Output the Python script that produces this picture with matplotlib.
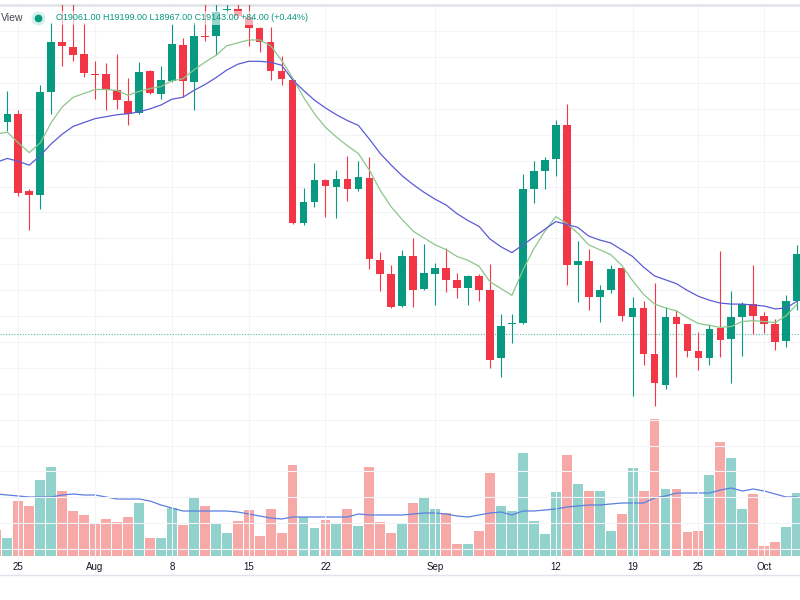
import matplotlib
matplotlib.use("Agg")
import matplotlib.pyplot as plt
import matplotlib.dates as mdates
from matplotlib.lines import Line2D
import numpy as np
import pandas as pd

# daily candles, 23 Jul - 4 Oct 2022
dates = pd.date_range("2022-07-23", "2022-10-04", freq="D")

opens = [22620, 22410, 22545, 21345, 21285, 22875, 23655, 23580, 23475, 23160,
         23160, 22905, 22740, 22560, 23205, 22845, 23055, 23610, 23040, 23745,
         23745, 24150, 24165, 24045, 23865, 23655, 23205, 23070, 20865, 21180,
         21525, 21420, 21540, 21375, 21555, 20280, 20070, 19575, 20340, 19845,
         20070, 20160, 19980, 19860, 20040, 19815, 18765, 19290, 19320, 21390,
         21660, 21840, 22365, 20205, 20265, 19710, 19815, 20160, 19410, 19545,
         18840, 18360, 19410, 19290, 18885, 18765, 19230, 19065, 19410, 19605,
         19425, 19305, 19035, 19650]
highs = [22725, 22890, 22605, 21375, 22995, 23940, 24400, 24400, 23940, 23355,
         23325, 23475, 23100, 23340, 23220, 23280, 23925, 23715, 23955, 24400,
         24400, 24400, 24400, 24400, 23880, 23880, 23430, 23070, 21405, 21780,
         21540, 21675, 21885, 21810, 21870, 20415, 20205, 20445, 20625, 20535,
         20235, 20475, 20085, 20055, 20070, 20220, 19455, 19455, 21615, 21810,
         21870, 22455, 22695, 20580, 20460, 19905, 20205, 20160, 19710, 19650,
         19935, 19560, 19515, 19305, 19170, 19305, 20430, 19800, 19635, 20205,
         19485, 19380, 19740, 20520]
lows = [22350, 22275, 21270, 20745, 21075, 22545, 23280, 23355, 23115, 22770,
        22605, 22620, 22365, 22545, 22845, 22770, 23040, 22800, 22605, 23670,
        23445, 24105, 24030, 23595, 23505, 23070, 22995, 20835, 20820, 21105,
        20955, 20940, 21195, 21345, 20145, 19800, 19545, 19560, 19560, 19830,
        19590, 19785, 19695, 19590, 19650, 18615, 18480, 19005, 19305, 21165,
        21390, 21585, 19905, 19635, 19515, 19335, 19770, 19350, 18180, 18660,
        18030, 18300, 18480, 18780, 18585, 18660, 18780, 18390, 18810, 19140,
        19155, 18900, 18945, 19515]
closes = [22395, 22545, 21315, 21285, 22875, 23655, 23595, 23460, 23175, 23145,
          22905, 22755, 22545, 23190, 22860, 23070, 23625, 23055, 23745, 23730,
          24120, 24165, 24060, 23865, 23655, 23205, 23085, 20865, 21180, 21525,
          21435, 21540, 21390, 21570, 20295, 20070, 19560, 20340, 19830, 20085,
          20160, 19980, 19860, 20040, 19815, 18735, 19260, 19320, 21390, 21660,
          21825, 22365, 20205, 20265, 19710, 19830, 20145, 19425, 19545, 18840,
          18390, 19410, 19290, 18885, 18765, 19215, 19050, 19410, 19605, 19425,
          19305, 19020, 19650, 20385]

# volume in thousands
volume = [26, 18, 55, 50, 76, 89, 65, 45, 41, 33,
          37, 34, 39, 53, 18, 18, 48, 31, 58, 50,
          32, 23, 35, 46, 20, 47, 23, 91, 39, 28,
          36, 32, 47, 30, 89, 34, 23, 32, 53, 58,
          47, 43, 12, 12, 25, 83, 50, 45, 103, 35,
          22, 64, 101, 72, 65, 65, 25, 42, 88, 65,
          137, 67, 67, 24, 25, 81, 114, 98, 47, 62,
          10, 14, 29, 63]
vol_ma = [62, 61, 60, 59, 59, 59, 61, 62, 61, 61,
          59, 57, 57, 57, 55, 51, 48, 45, 45, 45,
          45, 45, 44, 42, 40, 38, 37, 39, 39, 39,
          39, 39, 39, 42, 41, 41, 41, 41, 42, 43,
          43, 42, 40, 39, 41, 43, 44, 41, 45, 45,
          46, 47, 49, 50, 51, 51, 52, 53, 53, 53,
          58, 60, 63, 63, 63, 63, 66, 68, 65, 67,
          65, 62, 59, 59]

ma_fast = [22230, 22260, 22095, 21945, 22095, 22410, 22650, 22800, 22860, 22920,
           22920, 22905, 22830, 22890, 22935, 22965, 23055, 23085, 23220, 23340,
           23445, 23595, 23640, 23685, 23685, 23595, 23370, 23100, 22800, 22545,
           22335, 22185, 22050, 21930, 21675, 21360, 21105, 20910, 20730, 20625,
           20520, 20445, 20340, 20280, 20190, 19950, 19845, 19740, 20130, 20460,
           20730, 20955, 20850, 20700, 20520, 20445, 20370, 20205, 19965, 19755,
           19605, 19545, 19500, 19395, 19305, 19275, 19245, 19260, 19335, 19350,
           19335, 19320, 19425, 19605]
ma_slow = [21795, 21855, 21810, 21750, 21900, 22080, 22230, 22350, 22410, 22470,
           22500, 22530, 22545, 22575, 22620, 22680, 22770, 22800, 22905, 22995,
           23100, 23220, 23310, 23355, 23355, 23340, 23295, 23070, 22905, 22755,
           22635, 22530, 22440, 22365, 22155, 21930, 21750, 21585, 21450, 21330,
           21225, 21135, 21000, 20895, 20805, 20610, 20490, 20400, 20520, 20640,
           20760, 20880, 20835, 20790, 20655, 20595, 20550, 20445, 20340, 20175,
           20040, 19980, 19920, 19815, 19725, 19665, 19620, 19605, 19605, 19590,
           19575, 19530, 19545, 19650]

tick_dates = ["2022-07-25", "2022-08-01", "2022-08-08", "2022-08-15", "2022-08-22",
              "2022-09-01", "2022-09-12", "2022-09-19", "2022-09-25", "2022-10-01"]
tick_labels = ["25", "Aug", "8", "15", "22", "Sep", "12", "19", "25", "Oct"]
last_close = 19143
header = "O19061.00 H19199.00 L18967.00 C19143.00 +84.00 (+0.44%)"

UP, DOWN = "#089981", "#f23645"
UP_VOL, DOWN_VOL = "#92d2cc", "#f7a9a7"
GRID = "#f3f4f8"

o = np.array(opens); c = np.array(closes)
h = np.array(highs); l = np.array(lows)
x = mdates.date2num(dates)
up = c >= o
col = np.where(up, UP, DOWN)
vcol = np.where(up, UP_VOL, DOWN_VOL)

fig = plt.figure(figsize=(8, 6), dpi=100)
axv = fig.add_axes([0, 44 / 600, 1, 156 / 600])
ax = fig.add_axes([0, 25 / 600, 1, 570 / 600], sharex=axv)
ax.patch.set_alpha(0)

# volume pane
axv.bar(x, volume, width=0.9, color=vcol, zorder=2)
axv.plot(x, vol_ma, color="#5b7fe0", lw=0.9, zorder=3)
axv.set_ylim(0, 156)
axv.axis("off")

# price pane
ax.vlines(x, l, h, colors=col, lw=0.8, zorder=3)
body = np.maximum(np.abs(c - o), 15)
ax.bar(x, body, bottom=np.minimum(o, c), width=0.7, color=col, zorder=4)
ax.plot(x, ma_fast, color="#8cc68c", lw=0.9, zorder=5)
ax.plot(x, ma_slow, color="#5b5bd6", lw=0.9, zorder=5)
ax.axhline(last_close, color=UP, lw=0.8, ls=(0, (1, 1.5)), alpha=0.7, zorder=2)

ax.set_ylim(15675, 24225)
ax.set_xlim(x[0] + 0.33, x[0] + 73.26)
ax.set_yticks(np.arange(15420, 24300, 400))
ax.set_xticks(mdates.date2num(pd.to_datetime(tick_dates)))
ax.set_xticklabels(tick_labels)
ax.tick_params(axis="x", length=0, pad=-9, labelsize=7, labelcolor="#131722")
ax.tick_params(axis="y", length=0, labelleft=False)
for lab in ax.get_xticklabels():
    lab.set_family("Liberation Sans")
ax.grid(True, color=GRID, lw=0.8, zorder=0)
ax.set_axisbelow(True)
for side in ["left", "right"]:
    ax.spines[side].set_visible(False)
ax.spines["top"].set_color("#e0e3eb")
ax.spines["top"].set_linewidth(1.8)
ax.spines["bottom"].set_color("#e0e3eb")
ax.spines["bottom"].set_linewidth(1)

# legend header
fig.text(0.5 / 800, 1 - 18 / 600, "View", ha="left", va="center",
         fontsize=7.5, color="#434651", family="Liberation Sans")
fig.add_artist(Line2D([38 / 800], [1 - 18 / 600], marker="o", ms=9, color="#d3efe9",
                      transform=fig.transFigure))
fig.add_artist(Line2D([38 / 800], [1 - 18 / 600], marker="o", ms=4.5, color=UP,
                      transform=fig.transFigure))
fig.text(56 / 800, 1 - 18 / 600, header, va="center", fontsize=6.5, color=UP,
         family="Liberation Sans",
         bbox=dict(boxstyle="square,pad=0.3", fc="white", ec="none", alpha=0.6))

fig.savefig("out.png", dpi=100)
